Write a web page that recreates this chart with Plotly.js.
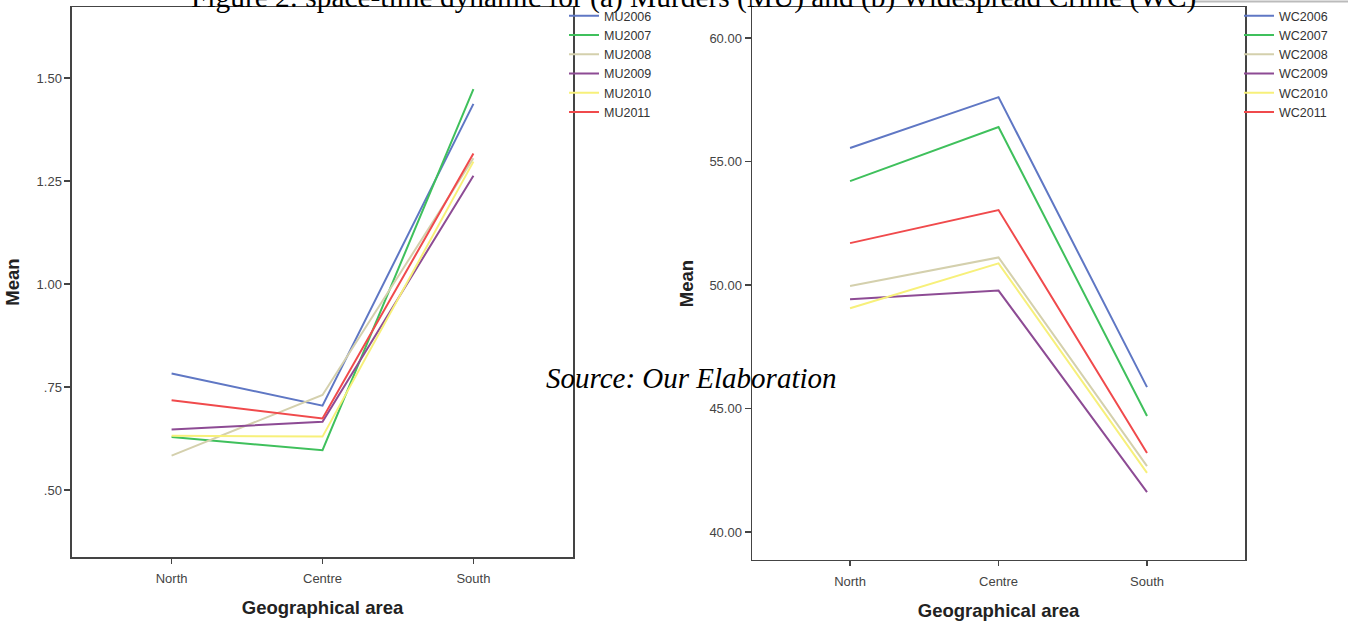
<!DOCTYPE html>
<html>
<head>
<meta charset="utf-8">
<script src="https://cdn.plot.ly/plotly-3.0.1.min.js"></script>
<style>html,body{margin:0;padding:0;background:#fff;}#chart{width:1348px;height:622px;}</style>
</head>
<body>
<div id="chart"></div>
<script>
var categories = ["North", "Centre", "South"];

var muNames = ["MU2006", "MU2007", "MU2008", "MU2009", "MU2010", "MU2011"];
var mu2006 = [0.783, 0.705, 1.437];
var mu2007 = [0.629, 0.597, 1.473];
var mu2008 = [0.584, 0.731, 1.305];
var mu2009 = [0.647, 0.666, 1.263];
var mu2010 = [0.632, 0.630, 1.297];
var mu2011 = [0.718, 0.674, 1.317];

var wcNames = ["WC2006", "WC2007", "WC2008", "WC2009", "WC2010", "WC2011"];
var wc2006 = [55.55, 57.61, 45.87];
var wc2007 = [54.21, 56.40, 44.70];
var wc2008 = [49.96, 51.12, 42.67];
var wc2009 = [49.43, 49.78, 41.62];
var wc2010 = [49.06, 50.88, 42.40];
var wc2011 = [51.70, 53.04, 43.20];

var muTickVals = [0.50, 0.75, 1.00, 1.25, 1.50];
var muTickText = [".50", ".75", "1.00", "1.25", "1.50"];
var wcTickVals = [40, 45, 50, 55, 60];
var wcTickText = ["40.00", "45.00", "50.00", "55.00", "60.00"];

var colors = ["#5f77c4", "#3fc05c", "#d4d0ad", "#8d4b94", "#f7f07a", "#f04a4c"];

var muSeries = [mu2006, mu2007, mu2008, mu2009, mu2010, mu2011];
var wcSeries = [wc2006, wc2007, wc2008, wc2009, wc2010, wc2011];

var traces = [];
muSeries.forEach(function (s, i) {
  traces.push({x: categories, y: s, name: muNames[i], type: "scatter", mode: "lines",
    line: {color: colors[i], width: 2}, xaxis: "x", yaxis: "y", legend: "legend"});
});
wcSeries.forEach(function (s, i) {
  traces.push({x: categories, y: s, name: wcNames[i], type: "scatter", mode: "lines",
    line: {color: colors[i], width: 2}, xaxis: "x2", yaxis: "y2", legend: "legend2"});
});

var tickFont = {family: "Liberation Sans, Arial", size: 13, color: "#444"};
var axTitleFont = {family: "Liberation Sans, Arial", size: 18.5, color: "#222", weight: "bold"};

function xAx(dom, anchor) {
  return {domain: dom, anchor: anchor, type: "category", range: [-0.66, 2.66],
    showline: true, mirror: true, linecolor: "#444", linewidth: 1.5,
    ticks: "outside", ticklen: 5, tickcolor: "#444", tickwidth: 1.5,
    ticklabelstandoff: 4,
    showgrid: false, zeroline: false, tickfont: tickFont,
    title: {text: "Geographical area", font: axTitleFont, standoff: 16}};
}
function yAx(dom, anchor, range, tv, tt, standoff) {
  return {domain: dom, anchor: anchor, range: range, tickvals: tv, ticktext: tt,
    showline: true, mirror: true, linecolor: "#444", linewidth: 1.5,
    ticks: "outside", ticklen: 6, tickcolor: "#444", tickwidth: 1.5,
    showgrid: false, zeroline: false, tickfont: tickFont,
    title: {text: "Mean", font: axTitleFont, standoff: standoff}};
}

var legFont = {family: "Liberation Sans, Arial", size: 12.5, color: "#333"};
var layout = {
  width: 1348, height: 622,
  margin: {l: 0, r: 0, t: 0, b: 0},
  paper_bgcolor: "#fff", plot_bgcolor: "#fff",
  showlegend: true,
  xaxis: xAx([0.0534, 0.4251], "y"),
  yaxis: yAx([0.1045, 0.9887], "x", [0.338, 1.672], muTickVals, muTickText, 12),
  xaxis2: xAx([0.5579, 0.9236], "y2"),
  yaxis2: yAx([0.0997, 0.9887], "x2", [38.87, 61.26], wcTickVals, wcTickText, 11),
  legend: {x: 564 / 1348, y: 0.998, xanchor: "left", yanchor: "top", font: legFont,
    bgcolor: "rgba(0,0,0,0)", tracegroupgap: 0, itemwidth: 30},
  legend2: {x: 1239 / 1348, y: 0.998, xanchor: "left", yanchor: "top", font: legFont,
    bgcolor: "rgba(0,0,0,0)", tracegroupgap: 0, itemwidth: 30},
  annotations: [
    {text: "Figure 2: space-time dynamic for (a) Murders (MU) and (b) Widespread Crime (WC)",
      xref: "paper", yref: "paper", x: 0.5145, y: 1 - 16 / 622, xanchor: "center", yanchor: "bottom",
      showarrow: false, font: {family: "Liberation Serif, Times New Roman", size: 29.4, color: "#000"}},
    {text: "<i>Source: Our Elaboration</i>",
      xref: "paper", yref: "paper", x: 691 / 1348, y: 1 - 378 / 622, xanchor: "center", yanchor: "middle",
      showarrow: false, font: {family: "Liberation Serif, Times New Roman", size: 29, color: "#000"}}
  ],
  shapes: [
    {type: "line", xref: "paper", yref: "paper", x0: 1195 / 1348, x1: 1, y0: 1 - 1.5 / 622, y1: 1 - 1.5 / 622,
      line: {color: "#bbb", width: 2}}
  ]
};

Plotly.newPlot("chart", traces, layout, {displayModeBar: false, staticPlot: true});
</script>
</body>
</html>
